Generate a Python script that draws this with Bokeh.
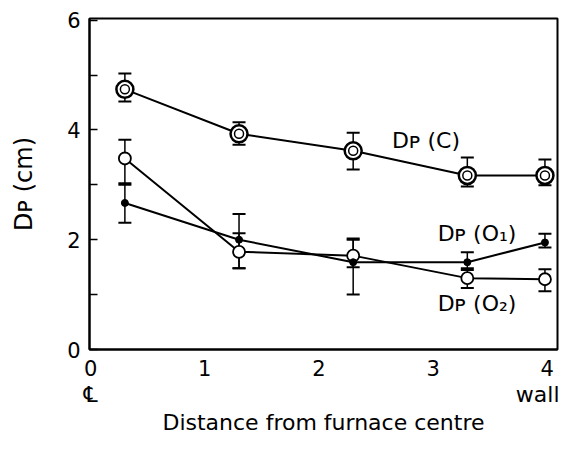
import math
from bokeh.plotting import figure
from bokeh.models import Whisker, ColumnDataSource, Label, FixedTicker, TeeHead, Range1d, LinearAxis
from bokeh.embed import file_html
from bokeh.resources import INLINE

# data
x = [0.3, 1.3, 2.3, 3.3, 3.98]
c_y = [4.74, 3.93, 3.62, 3.17, 3.17]
c_lo = [4.52, 3.73, 3.28, 2.97, 2.99]
c_hi = [5.03, 4.14, 3.95, 3.50, 3.46]
o1_y = [2.67, 2.00, 1.59, 1.59, 1.95]
o1_lo = [2.31, 1.48, 1.00, 1.45, 1.86]
o1_hi = [3.03, 2.12, 2.00, 1.77, 2.11]
o2_y = [3.48, 1.78, 1.71, 1.30, 1.28]
o2_lo = [3.00, 1.48, 1.50, 1.12, 1.06]
o2_hi = [3.82, 2.47, 2.02, 1.48, 1.46]
x_ticks = [0, 1, 2, 3, 4]
y_ticks = [0, 1, 2, 3, 4, 5, 6]
y_labels = {0: "0", 1: "", 2: "2", 3: "", 4: "4", 5: "", 6: "6"}
end_ticks = [0, 4]
end_labels = {0: "℄", 4: "wall"}

FONT = "DejaVu Sans"

p = figure(width=559, height=437, output_backend="svg", toolbar_location=None,
           x_range=Range1d(-0.01, 4.09), y_range=Range1d(0, 6.03),
           min_border_left=89, min_border_right=2, min_border_top=18, min_border_bottom=80)
p.grid.visible = False
p.outline_line_color = "black"
p.outline_line_width = 2
p.background_fill_color = "white"
p.border_fill_color = "white"

p.xaxis.ticker = FixedTicker(ticks=x_ticks)
p.xaxis.major_tick_line_color = None
p.xaxis.minor_tick_line_color = None
p.xaxis.major_label_standoff = 4
p.yaxis.ticker = FixedTicker(ticks=y_ticks)
p.yaxis.major_label_overrides = y_labels
p.yaxis.major_tick_in = 8
p.yaxis.major_tick_out = 0
p.yaxis.major_tick_line_width = 1.5
p.yaxis.minor_tick_line_color = None
p.yaxis.major_label_standoff = 9
p.yaxis.axis_label = "Dᴘ (cm)"
p.yaxis.axis_label_standoff = 26
p.yaxis.axis_label_text_font = FONT
p.yaxis.axis_label_text_font_style = "normal"
p.yaxis.axis_label_text_font_size = "24px"
p.yaxis.axis_label_text_color = "black"
for ax in (p.xaxis, p.yaxis):
    ax.axis_line_width = 2
    ax.major_label_text_font = FONT
    ax.major_label_text_font_size = "21px"
    ax.major_label_text_color = "black"

ax2 = LinearAxis(ticker=FixedTicker(ticks=end_ticks), major_label_overrides=end_labels,
                 axis_line_color=None, major_tick_line_color=None, minor_tick_line_color=None,
                 major_label_standoff=-3, major_label_text_font=FONT,
                 major_label_text_font_size="22px", major_label_text_color="black",
                 axis_label="Distance from furnace centre", axis_label_standoff=0,
                 axis_label_text_font=FONT, axis_label_text_font_style="normal",
                 axis_label_text_font_size="22px", axis_label_text_color="black")
p.add_layout(ax2, "below")

series = [(c_y, c_lo, c_hi), (o1_y, o1_lo, o1_hi), (o2_y, o2_lo, o2_hi)]
for yy, lo, hi in series:
    p.line(x, yy, line_color="black", line_width=2)

for yy, lo, hi in series:
    src = ColumnDataSource(dict(x=x, lo=lo, hi=hi))
    w = Whisker(source=src, base="x", lower="lo", upper="hi", line_color="black", line_width=1.5,
                upper_head=TeeHead(size=13, line_color="black", line_width=2),
                lower_head=TeeHead(size=13, line_color="black", line_width=2))
    p.add_layout(w)

# markers
p.scatter(x, c_y, size=17, fill_color="white", line_color="black", line_width=2.5)
p.scatter(x, c_y, size=9, fill_color="white", line_color="black", line_width=1.5)
p.scatter(x, o2_y, size=12, fill_color="white", line_color="black", line_width=1.8)
p.scatter(x, o1_y, size=7, fill_color="black", line_color="black")

def lab(tx, ty, text, size="22px", **kw):
    p.add_layout(Label(x=tx, y=ty, text=text, text_font=FONT, text_font_size=size,
                       text_color="black", text_baseline="middle", **kw))

lab(2.64, 3.80, "Dᴘ (C)")
lab(3.04, 2.11, "Dᴘ (O₁)")
lab(3.04, 0.83, "Dᴘ (O₂)")

open("out.html", "w").write(file_html(p, INLINE))
